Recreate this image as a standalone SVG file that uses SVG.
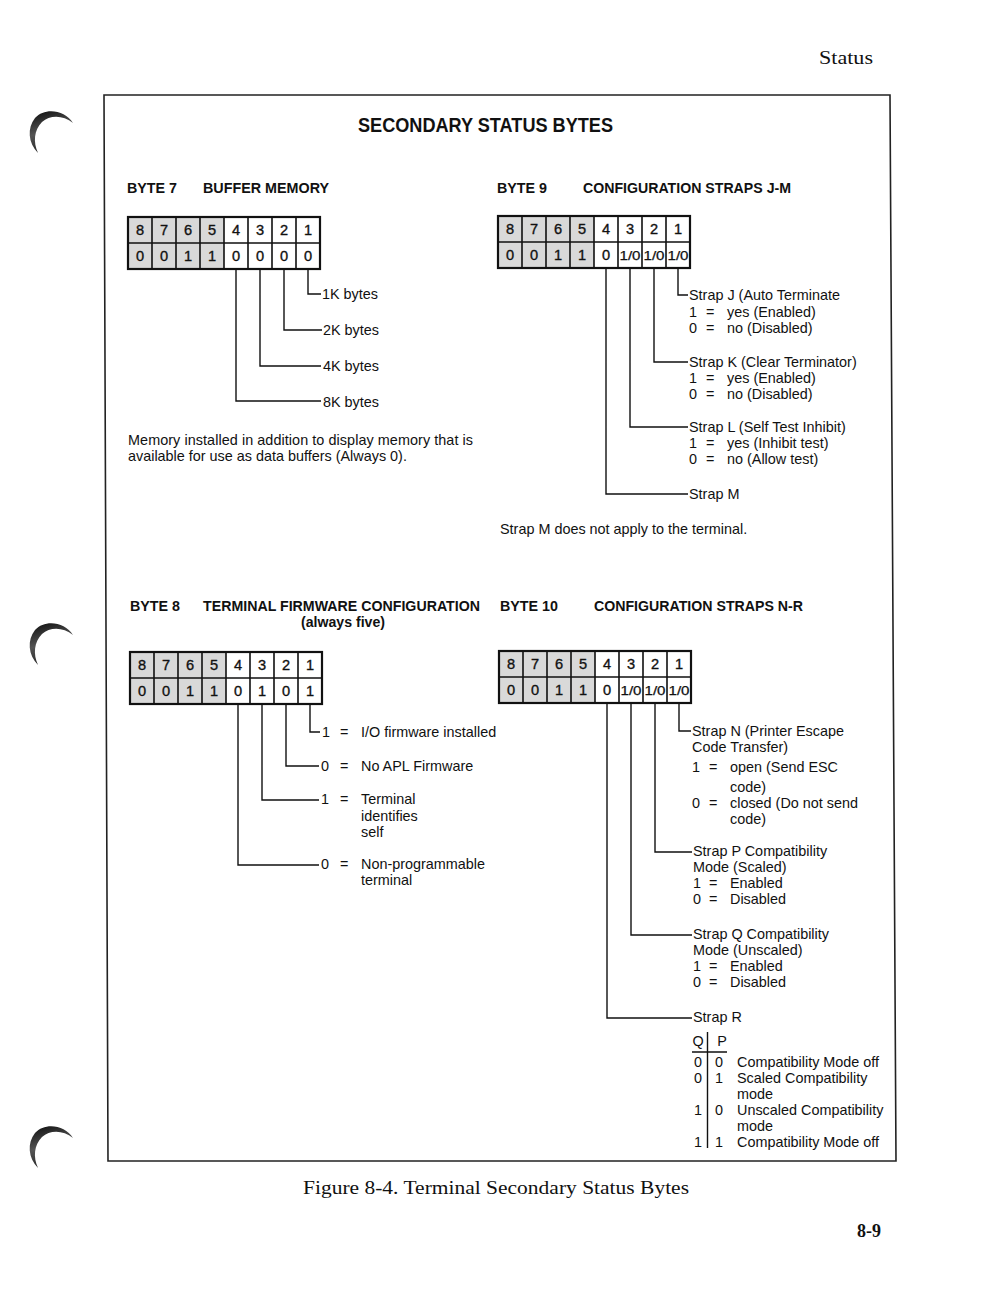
<svg xmlns="http://www.w3.org/2000/svg" xmlns:xlink="http://www.w3.org/1999/xlink" width="1006" height="1294" viewBox="0 0 1006 1294">
<style>
text{font-family:"Liberation Sans",Arial,sans-serif;fill:#111}
.t{font-size:14.4px}
.h{font-size:14.5px;font-weight:bold}
.title{font-size:20px;font-weight:bold}
.serif{font-family:"Liberation Serif","Times New Roman",serif;font-size:19px}
.d{font-size:14.6px;text-anchor:middle;stroke:#111;stroke-width:0.35}
.q{font-size:14.4px;text-anchor:middle}
.s{font-size:13.5px;text-anchor:middle;stroke:#111;stroke-width:0.25}
.ln{fill:none;stroke:#111;stroke-width:1.4}
.frame{fill:none;stroke:#222;stroke-width:1.6}
</style>
<defs>
<linearGradient id="cg" x1="0" y1="0" x2="0.3" y2="1">
<stop offset="0" stop-color="#0c0c0c"/>
<stop offset="0.55" stop-color="#555"/>
<stop offset="1" stop-color="#222"/>
</linearGradient>
<g id="grid">
<rect x="0" y="0" width="96" height="52" fill="#d9d9d9"/>
<rect x="0" y="0" width="192" height="52" fill="none" stroke="#111" stroke-width="2.2"/>
<path d="M24 0V52M48 0V52M72 0V52M96 0V52M120 0V52M144 0V52M168 0V52M0 26H192" stroke="#111" stroke-width="1.6" fill="none"/>
<text class="d" x="12" y="18">8</text><text class="d" x="36" y="18">7</text><text class="d" x="60" y="18">6</text><text class="d" x="84" y="18">5</text>
<text class="d" x="108" y="18">4</text><text class="d" x="132" y="18">3</text><text class="d" x="156" y="18">2</text><text class="d" x="180" y="18">1</text>
</g>
<path id="cres" d="M73,123 C65,110 45,107 35,118 C27,128 28,143 38,153 C33,142 34,130 42,122 C50,115 63,115 73,123 Z" fill="url(#cg)"/>
</defs>

<rect width="1006" height="1294" fill="#fff"/>

<use xlink:href="#cres"/>
<use xlink:href="#cres" transform="translate(0,512)"/>
<use xlink:href="#cres" transform="translate(0,1015)"/>

<text class="serif" x="819" y="64" textLength="54" lengthAdjust="spacingAndGlyphs">Status</text>

<path class="frame" d="M104,95 H890 L896,1161 H108 Z"/>

<text class="title" x="358" y="132" textLength="255" lengthAdjust="spacingAndGlyphs">SECONDARY STATUS BYTES</text>

<g id="byte7">
<text class="h" x="127" y="193" textLength="50" lengthAdjust="spacingAndGlyphs">BYTE 7</text>
<text class="h" x="203" y="193" textLength="126" lengthAdjust="spacingAndGlyphs">BUFFER MEMORY</text>
<use xlink:href="#grid" transform="translate(128,217)"/>
<g transform="translate(128,217)">
<text class="d" x="12" y="44">0</text><text class="d" x="36" y="44">0</text><text class="d" x="60" y="44">1</text><text class="d" x="84" y="44">1</text>
<text class="d" x="108" y="44">0</text><text class="d" x="132" y="44">0</text><text class="d" x="156" y="44">0</text><text class="d" x="180" y="44">0</text>
</g>
<text class="t" x="322" y="299">1K bytes</text>
<text class="t" x="323" y="335">2K bytes</text>
<text class="t" x="323" y="371">4K bytes</text>
<text class="t" x="323" y="407">8K bytes</text>
<text class="t" x="128" y="445" textLength="345">Memory installed in addition to display memory that is</text>
<text class="t" x="128" y="461">available for use as data buffers (Always 0).</text>
</g>

<g id="byte9">
<text class="h" x="497" y="193" textLength="50" lengthAdjust="spacingAndGlyphs">BYTE 9</text>
<text class="h" x="583" y="193" textLength="208" lengthAdjust="spacingAndGlyphs">CONFIGURATION STRAPS J-M</text>
<use xlink:href="#grid" transform="translate(498,216)"/>
<g transform="translate(498,216)">
<text class="d" x="12" y="44">0</text><text class="d" x="36" y="44">0</text><text class="d" x="60" y="44">1</text><text class="d" x="84" y="44">1</text>
<text class="d" x="108" y="44">0</text><text class="s" x="132" y="44" textLength="21" lengthAdjust="spacingAndGlyphs">1/0</text><text class="s" x="156" y="44" textLength="21" lengthAdjust="spacingAndGlyphs">1/0</text><text class="s" x="180" y="44" textLength="21" lengthAdjust="spacingAndGlyphs">1/0</text>
</g>
<text class="t" x="689" y="300">Strap J (Auto Terminate</text>
<text class="t" x="689" y="317">1</text><text class="t" x="706" y="317">=</text><text class="t" x="727" y="317">yes (Enabled)</text>
<text class="t" x="689" y="333">0</text><text class="t" x="706" y="333">=</text><text class="t" x="727" y="333">no (Disabled)</text>
<text class="t" x="689" y="367">Strap K (Clear Terminator)</text>
<text class="t" x="689" y="383">1</text><text class="t" x="706" y="383">=</text><text class="t" x="727" y="383">yes (Enabled)</text>
<text class="t" x="689" y="399">0</text><text class="t" x="706" y="399">=</text><text class="t" x="727" y="399">no (Disabled)</text>
<text class="t" x="689" y="432">Strap L (Self Test Inhibit)</text>
<text class="t" x="689" y="448">1</text><text class="t" x="706" y="448">=</text><text class="t" x="727" y="448">yes (Inhibit test)</text>
<text class="t" x="689" y="464">0</text><text class="t" x="706" y="464">=</text><text class="t" x="727" y="464">no (Allow test)</text>
<text class="t" x="689" y="499">Strap M</text>
<text class="t" x="500" y="534">Strap M does not apply to the terminal.</text>
</g>

<g id="byte8">
<text class="h" x="130" y="611" textLength="50" lengthAdjust="spacingAndGlyphs">BYTE 8</text>
<text class="h" x="203" y="611" textLength="277" lengthAdjust="spacingAndGlyphs">TERMINAL FIRMWARE CONFIGURATION</text>
<text class="h" x="301" y="627" textLength="84" lengthAdjust="spacingAndGlyphs">(always five)</text>
<use xlink:href="#grid" transform="translate(130,652)"/>
<g transform="translate(130,652)">
<text class="d" x="12" y="44">0</text><text class="d" x="36" y="44">0</text><text class="d" x="60" y="44">1</text><text class="d" x="84" y="44">1</text>
<text class="d" x="108" y="44">0</text><text class="d" x="132" y="44">1</text><text class="d" x="156" y="44">0</text><text class="d" x="180" y="44">1</text>
</g>
<text class="t" x="322" y="737">1</text><text class="t" x="340" y="737">=</text><text class="t" x="361" y="737">I/O firmware installed</text>
<text class="t" x="321" y="771">0</text><text class="t" x="340" y="771">=</text><text class="t" x="361" y="771">No APL Firmware</text>
<text class="t" x="321" y="804">1</text><text class="t" x="340" y="804">=</text><text class="t" x="361" y="804">Terminal</text>
<text class="t" x="361" y="821">identifies</text>
<text class="t" x="361" y="837">self</text>
<text class="t" x="321" y="869">0</text><text class="t" x="340" y="869">=</text><text class="t" x="361" y="869">Non-programmable</text>
<text class="t" x="361" y="885">terminal</text>
</g>

<g id="byte10">
<text class="h" x="500" y="611" textLength="58" lengthAdjust="spacingAndGlyphs">BYTE 10</text>
<text class="h" x="594" y="611" textLength="209" lengthAdjust="spacingAndGlyphs">CONFIGURATION STRAPS N-R</text>
<use xlink:href="#grid" transform="translate(499,651)"/>
<g transform="translate(499,651)">
<text class="d" x="12" y="44">0</text><text class="d" x="36" y="44">0</text><text class="d" x="60" y="44">1</text><text class="d" x="84" y="44">1</text>
<text class="d" x="108" y="44">0</text><text class="s" x="132" y="44" textLength="21" lengthAdjust="spacingAndGlyphs">1/0</text><text class="s" x="156" y="44" textLength="21" lengthAdjust="spacingAndGlyphs">1/0</text><text class="s" x="180" y="44" textLength="21" lengthAdjust="spacingAndGlyphs">1/0</text>
</g>
<text class="t" x="692" y="736">Strap N (Printer Escape</text>
<text class="t" x="692" y="752">Code Transfer)</text>
<text class="t" x="692" y="772">1</text><text class="t" x="709" y="772">=</text><text class="t" x="730" y="772">open (Send ESC</text>
<text class="t" x="730" y="792">code)</text>
<text class="t" x="692" y="808">0</text><text class="t" x="709" y="808">=</text><text class="t" x="730" y="808">closed (Do not send</text>
<text class="t" x="730" y="824">code)</text>
<text class="t" x="693" y="856">Strap P Compatibility</text>
<text class="t" x="693" y="872">Mode (Scaled)</text>
<text class="t" x="693" y="888">1</text><text class="t" x="709" y="888">=</text><text class="t" x="730" y="888">Enabled</text>
<text class="t" x="693" y="904">0</text><text class="t" x="709" y="904">=</text><text class="t" x="730" y="904">Disabled</text>
<text class="t" x="693" y="939">Strap Q Compatibility</text>
<text class="t" x="693" y="955">Mode (Unscaled)</text>
<text class="t" x="693" y="971">1</text><text class="t" x="709" y="971">=</text><text class="t" x="730" y="971">Enabled</text>
<text class="t" x="693" y="987">0</text><text class="t" x="709" y="987">=</text><text class="t" x="730" y="987">Disabled</text>
<text class="t" x="693" y="1022">Strap R</text>
<g id="qp-table">
<text class="q" x="698" y="1046">Q</text><text class="q" x="722" y="1046">P</text>
<path class="ln" d="M707.5,1032 V1148 M692,1052 H727"/>
<text class="q" x="698" y="1067">0</text><text class="q" x="719" y="1067">0</text><text class="t" x="737" y="1067">Compatibility Mode off</text>
<text class="q" x="698" y="1083">0</text><text class="q" x="719" y="1083">1</text><text class="t" x="737" y="1083">Scaled Compatibility</text>
<text class="t" x="737" y="1099">mode</text>
<text class="q" x="698" y="1115">1</text><text class="q" x="719" y="1115">0</text><text class="t" x="737" y="1115">Unscaled Compatibility</text>
<text class="t" x="737" y="1131">mode</text>
<text class="q" x="698" y="1147">1</text><text class="q" x="719" y="1147">1</text><text class="t" x="737" y="1147">Compatibility Mode off</text>
</g>
</g>

<g id="connectors">
<path class="ln" d="M308,269 V294 H321 M284,269 V330 H322 M260,269 V366 H321 M236,269 V401 H321"/>
<path class="ln" d="M678,268 V295 H688 M654,268 V362 H688 M630,268 V427 H688 M606,268 V494 H688"/>
<path class="ln" d="M310,704 V732 H320 M286,704 V766 H319 M262,704 V800 H319 M238,704 V865 H319"/>
<path class="ln" d="M679,703 V731 H691 M655,703 V852 H692 M631,703 V935 H692 M607,703 V1018 H692"/>
</g>

<text class="serif" x="303" y="1194" textLength="386" lengthAdjust="spacingAndGlyphs">Figure 8-4. Terminal Secondary Status Bytes</text>
<text class="serif" x="857" y="1237" font-weight="bold" textLength="24" lengthAdjust="spacingAndGlyphs">8-9</text>
</svg>
